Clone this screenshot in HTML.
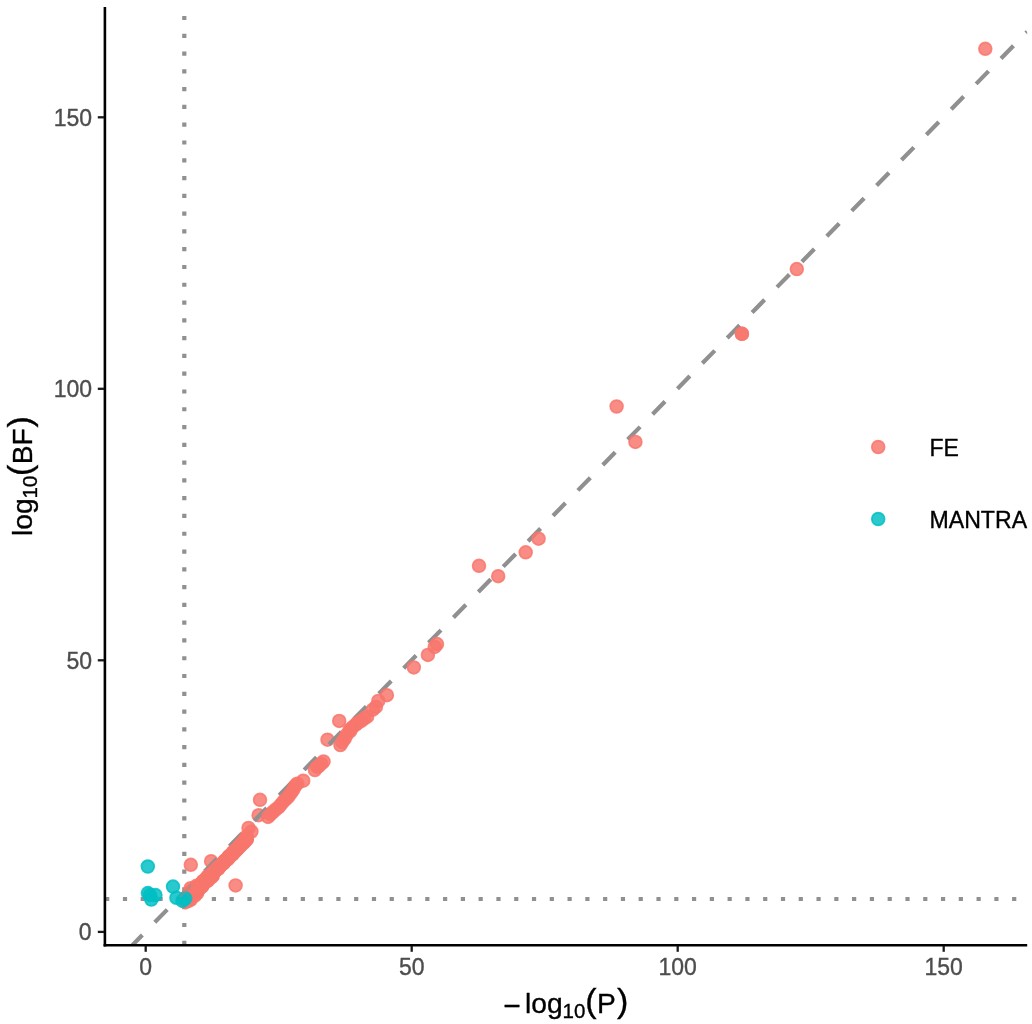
<!DOCTYPE html>
<html><head><meta charset="utf-8"><title>log10(BF) vs -log10(P)</title>
<style>
html,body{margin:0;padding:0;background:#fff;}
svg{display:block;}
text{font-family:"Liberation Sans",Arial,Helvetica,sans-serif;stroke-width:0.35px;}
.tk{stroke:#4d4d4d;} .ttl,.sub,.par,.lg{stroke:#000;}
.tk{font-size:23px;fill:#4d4d4d;}
.ttl{font-size:28.2px;fill:#000;}
.sub{font-size:20.5px;fill:#000;}
.par{font-size:34px;fill:#000;}
.lg{font-size:23px;fill:#000;}
</style></head>
<body>
<svg width="1032" height="1024" viewBox="0 0 1032 1024">
<rect width="1032" height="1024" fill="#ffffff"/>
<defs><clipPath id="nearorigin"><rect x="170" y="880" width="21" height="30"/></clipPath><clipPath id="panel"><rect x="105.0" y="7.0" width="922.2" height="938.0"/></clipPath></defs>
<g clip-path="url(#panel)">
<line x1="184.3" y1="945.0" x2="184.3" y2="7.0" stroke="#909090" stroke-width="4.2" stroke-dasharray="4.2 13.584" stroke-dashoffset="-0.12"/>
<line x1="105.0" y1="899" x2="1027.2" y2="899" stroke="#909090" stroke-width="4.2" stroke-dasharray="4.2 13.584" stroke-dashoffset="-0.12"/>
<g fill="#F8766D" fill-opacity="0.84" stroke="#F8766D" stroke-opacity="0.84" stroke-width="1.7"><circle cx="327.5" cy="739.7" r="6.4"/><circle cx="258.6" cy="815.2" r="6.4"/><circle cx="211.1" cy="861.2" r="6.4"/></g>
<line x1="105.0" y1="973.15" x2="1027.2" y2="31.71" stroke="#909090" stroke-width="4.2" stroke-dasharray="17.784 17.784"/>
<g fill="#F8766D" fill-opacity="0.84" stroke="#F8766D" stroke-opacity="0.84" stroke-width="1.7">
<circle cx="186.0" cy="899.8" r="6.4"/>
<circle cx="186.6" cy="900.5" r="6.4"/>
<circle cx="186.6" cy="900.2" r="6.4"/>
<circle cx="187.0" cy="897.8" r="6.4"/>
<circle cx="186.9" cy="897.8" r="6.4"/>
<circle cx="186.6" cy="897.9" r="6.4"/>
<circle cx="189.5" cy="897.3" r="6.4"/>
<circle cx="188.2" cy="896.7" r="6.4"/>
<circle cx="190.0" cy="897.8" r="6.4"/>
<circle cx="190.7" cy="896.4" r="6.4"/>
<circle cx="191.2" cy="897.3" r="6.4"/>
<circle cx="191.2" cy="897.0" r="6.4"/>
<circle cx="190.7" cy="894.0" r="6.4"/>
<circle cx="191.8" cy="894.4" r="6.4"/>
<circle cx="191.3" cy="894.1" r="6.4"/>
<circle cx="193.4" cy="893.8" r="6.4"/>
<circle cx="192.9" cy="893.6" r="6.4"/>
<circle cx="191.9" cy="892.5" r="6.4"/>
<circle cx="194.8" cy="892.6" r="6.4"/>
<circle cx="194.2" cy="891.8" r="6.4"/>
<circle cx="194.2" cy="892.1" r="6.4"/>
<circle cx="196.7" cy="891.5" r="6.4"/>
<circle cx="195.3" cy="890.3" r="6.4"/>
<circle cx="196.2" cy="890.9" r="6.4"/>
<circle cx="197.4" cy="890.1" r="6.4"/>
<circle cx="197.8" cy="890.6" r="6.4"/>
<circle cx="197.2" cy="889.4" r="6.4"/>
<circle cx="197.6" cy="887.4" r="6.4"/>
<circle cx="197.5" cy="887.2" r="6.4"/>
<circle cx="199.1" cy="888.8" r="6.4"/>
<circle cx="200.4" cy="887.7" r="6.4"/>
<circle cx="200.2" cy="887.3" r="6.4"/>
<circle cx="199.8" cy="887.1" r="6.4"/>
<circle cx="202.2" cy="886.3" r="6.4"/>
<circle cx="201.1" cy="885.5" r="6.4"/>
<circle cx="200.2" cy="884.6" r="6.4"/>
<circle cx="203.1" cy="884.6" r="6.4"/>
<circle cx="202.8" cy="885.0" r="6.4"/>
<circle cx="202.2" cy="884.0" r="6.4"/>
<circle cx="202.5" cy="881.8" r="6.4"/>
<circle cx="202.5" cy="882.2" r="6.4"/>
<circle cx="202.9" cy="881.9" r="6.4"/>
<circle cx="203.8" cy="880.7" r="6.4"/>
<circle cx="205.0" cy="881.3" r="6.4"/>
<circle cx="203.9" cy="880.6" r="6.4"/>
<circle cx="206.7" cy="880.4" r="6.4"/>
<circle cx="207.3" cy="881.0" r="6.4"/>
<circle cx="205.6" cy="879.7" r="6.4"/>
<circle cx="207.6" cy="878.6" r="6.4"/>
<circle cx="208.2" cy="880.0" r="6.4"/>
<circle cx="206.5" cy="878.2" r="6.4"/>
<circle cx="208.2" cy="877.0" r="6.4"/>
<circle cx="208.8" cy="877.8" r="6.4"/>
<circle cx="207.6" cy="876.5" r="6.4"/>
<circle cx="209.9" cy="876.0" r="6.4"/>
<circle cx="211.3" cy="877.3" r="6.4"/>
<circle cx="210.3" cy="876.3" r="6.4"/>
<circle cx="211.4" cy="875.3" r="6.4"/>
<circle cx="212.6" cy="875.9" r="6.4"/>
<circle cx="212.5" cy="875.8" r="6.4"/>
<circle cx="212.5" cy="873.6" r="6.4"/>
<circle cx="212.6" cy="873.4" r="6.4"/>
<circle cx="212.0" cy="873.4" r="6.4"/>
<circle cx="213.5" cy="872.1" r="6.4"/>
<circle cx="213.5" cy="872.2" r="6.4"/>
<circle cx="213.4" cy="872.0" r="6.4"/>
<circle cx="214.9" cy="870.7" r="6.4"/>
<circle cx="215.4" cy="870.7" r="6.4"/>
<circle cx="215.0" cy="871.0" r="6.4"/>
<circle cx="216.3" cy="869.5" r="6.4"/>
<circle cx="216.1" cy="869.6" r="6.4"/>
<circle cx="218.6" cy="868.5" r="6.4"/>
<circle cx="217.9" cy="868.3" r="6.4"/>
<circle cx="218.6" cy="866.7" r="6.4"/>
<circle cx="218.9" cy="866.9" r="6.4"/>
<circle cx="220.3" cy="865.8" r="6.4"/>
<circle cx="220.7" cy="865.4" r="6.4"/>
<circle cx="221.5" cy="864.3" r="6.4"/>
<circle cx="221.4" cy="864.4" r="6.4"/>
<circle cx="223.6" cy="863.0" r="6.4"/>
<circle cx="223.5" cy="863.2" r="6.4"/>
<circle cx="224.1" cy="861.5" r="6.4"/>
<circle cx="224.5" cy="861.5" r="6.4"/>
<circle cx="226.0" cy="860.4" r="6.4"/>
<circle cx="225.3" cy="860.2" r="6.4"/>
<circle cx="227.7" cy="859.2" r="6.4"/>
<circle cx="227.5" cy="859.2" r="6.4"/>
<circle cx="228.7" cy="857.9" r="6.4"/>
<circle cx="228.2" cy="857.5" r="6.4"/>
<circle cx="229.0" cy="856.3" r="6.4"/>
<circle cx="229.1" cy="856.1" r="6.4"/>
<circle cx="231.0" cy="854.9" r="6.4"/>
<circle cx="231.1" cy="855.3" r="6.4"/>
<circle cx="232.9" cy="854.0" r="6.4"/>
<circle cx="232.3" cy="854.0" r="6.4"/>
<circle cx="233.1" cy="852.2" r="6.4"/>
<circle cx="233.0" cy="852.2" r="6.4"/>
<circle cx="235.3" cy="851.1" r="6.4"/>
<circle cx="235.0" cy="851.2" r="6.4"/>
<circle cx="236.5" cy="849.8" r="6.4"/>
<circle cx="236.0" cy="849.5" r="6.4"/>
<circle cx="237.9" cy="848.6" r="6.4"/>
<circle cx="237.5" cy="848.5" r="6.4"/>
<circle cx="238.8" cy="846.9" r="6.4"/>
<circle cx="238.9" cy="847.0" r="6.4"/>
<circle cx="240.2" cy="846.0" r="6.4"/>
<circle cx="240.4" cy="845.7" r="6.4"/>
<circle cx="241.1" cy="844.5" r="6.4"/>
<circle cx="240.7" cy="844.2" r="6.4"/>
<circle cx="243.1" cy="843.3" r="6.4"/>
<circle cx="242.7" cy="842.9" r="6.4"/>
<circle cx="244.3" cy="842.0" r="6.4"/>
<circle cx="243.9" cy="841.7" r="6.4"/>
<circle cx="244.5" cy="840.2" r="6.4"/>
<circle cx="245.6" cy="840.7" r="6.4"/>
<circle cx="246.9" cy="839.1" r="6.4"/>
<circle cx="246.8" cy="839.1" r="6.4"/>
<circle cx="196.6" cy="885.7" r="6.4"/>
<circle cx="189.0" cy="894.4" r="6.4"/>
<circle cx="190.6" cy="896.2" r="6.4"/>
<circle cx="189.9" cy="895.0" r="6.4"/>
<circle cx="190.9" cy="899.6" r="6.4"/>
<circle cx="191.4" cy="893.9" r="6.4"/>
<circle cx="197.2" cy="893.1" r="6.4"/>
<circle cx="195.0" cy="895.5" r="6.4"/>
<circle cx="193.9" cy="892.2" r="6.4"/>
<circle cx="190.6" cy="888.2" r="6.4"/>
<circle cx="191.1" cy="891.1" r="6.4"/>
<circle cx="188.5" cy="900.8" r="6.4"/>
<circle cx="189.0" cy="896.5" r="6.4"/>
<circle cx="197.2" cy="889.1" r="6.4"/>
<circle cx="185.7" cy="902.2" r="6.4"/>
<circle cx="985.3" cy="48.8" r="6.4"/>
<circle cx="796.8" cy="269.1" r="6.4"/>
<circle cx="741.9" cy="333.8" r="6.4"/>
<circle cx="741.9" cy="333.8" r="6.4"/>
<circle cx="616.6" cy="406.5" r="6.4"/>
<circle cx="635.4" cy="441.9" r="6.4"/>
<circle cx="538.6" cy="538.7" r="6.4"/>
<circle cx="525.7" cy="552.3" r="6.4"/>
<circle cx="479.0" cy="565.8" r="6.4"/>
<circle cx="498.2" cy="576.2" r="6.4"/>
<circle cx="437.0" cy="644.1" r="6.4"/>
<circle cx="434.7" cy="646.9" r="6.4"/>
<circle cx="427.9" cy="654.9" r="6.4"/>
<circle cx="413.8" cy="667.4" r="6.4"/>
<circle cx="386.9" cy="695.2" r="6.4"/>
<circle cx="378.3" cy="700.9" r="6.4"/>
<circle cx="375.9" cy="706.9" r="6.4"/>
<circle cx="372.8" cy="709.7" r="6.4"/>
<circle cx="367.1" cy="716.7" r="6.4"/>
<circle cx="364.2" cy="718.6" r="6.4"/>
<circle cx="339.2" cy="720.9" r="6.4"/>
<circle cx="357.2" cy="723.3" r="6.4"/>
<circle cx="355.7" cy="724.6" r="6.4"/>
<circle cx="352.5" cy="727.2" r="6.4"/>
<circle cx="350.2" cy="731.1" r="6.4"/>
<circle cx="349.5" cy="729.9" r="6.4"/>
<circle cx="344.6" cy="738.8" r="6.4"/>
<circle cx="340.4" cy="745.1" r="6.4"/>
<circle cx="323.5" cy="761.5" r="6.4"/>
<circle cx="318.8" cy="766.1" r="6.4"/>
<circle cx="314.9" cy="770.0" r="6.4"/>
<circle cx="317.3" cy="766.9" r="6.4"/>
<circle cx="303.2" cy="780.7" r="6.4"/>
<circle cx="295.4" cy="785.6" r="6.4"/>
<circle cx="293.4" cy="789.5" r="6.4"/>
<circle cx="288.6" cy="796.4" r="6.4"/>
<circle cx="283.7" cy="801.2" r="6.4"/>
<circle cx="278.8" cy="807.1" r="6.4"/>
<circle cx="272.9" cy="812.0" r="6.4"/>
<circle cx="268.0" cy="816.9" r="6.4"/>
<circle cx="260.0" cy="799.8" r="6.4"/>
<circle cx="251.4" cy="831.5" r="6.4"/>
<circle cx="248.5" cy="828.0" r="6.4"/>
<circle cx="246.6" cy="836.4" r="6.4"/>
<circle cx="235.6" cy="885.4" r="6.4"/>
<circle cx="190.8" cy="864.8" r="6.4"/>
<circle cx="291.0" cy="792.9" r="6.4"/>
<circle cx="286.1" cy="798.8" r="6.4"/>
<circle cx="281.2" cy="804.1" r="6.4"/>
<circle cx="275.7" cy="809.5" r="6.4"/>
<circle cx="270.5" cy="814.4" r="6.4"/>
<circle cx="297.2" cy="783.7" r="6.4"/>
<circle cx="361.0" cy="721.0" r="6.4"/>
<circle cx="346.5" cy="735.0" r="6.4"/>
<circle cx="342.2" cy="742.2" r="6.4"/>
<circle cx="321.2" cy="763.7" r="6.4"/>
</g>
<g fill="#00BFC4" fill-opacity="0.84" stroke="#00BFC4" stroke-opacity="0.84" stroke-width="1.7">
<circle cx="147.8" cy="866.5" r="6.4"/>
<circle cx="173.0" cy="886.6" r="6.4"/>
<circle cx="147.9" cy="893.1" r="6.4"/>
<circle cx="155.4" cy="895.1" r="6.4"/>
<circle cx="151.3" cy="899.6" r="6.4"/>
<circle cx="150.0" cy="895.0" r="6.4"/>
<circle cx="176.4" cy="897.8" r="6.4"/>
<circle cx="185.2" cy="898.5" r="6.4"/>
<circle cx="182.5" cy="900.8" r="6.4"/>
</g>
<g clip-path="url(#nearorigin)"><line x1="105.0" y1="973.15" x2="1027.2" y2="31.71" stroke="#9a8f8f" stroke-opacity="0.45" stroke-width="3" stroke-dasharray="17.784 17.784"/></g>
</g>
<!-- axes -->
<g stroke="#000" stroke-width="2.6" fill="none" stroke-linecap="butt">
<line x1="104.9" y1="7.0" x2="104.9" y2="946.5"/>
<line x1="103.6" y1="945.2" x2="1027.2" y2="945.2"/>
</g>
<g stroke="#1a1a1a" stroke-width="2.3">
<line x1="145.7" y1="946" x2="145.7" y2="951.8"/>
<line x1="411.7" y1="946" x2="411.7" y2="951.8"/>
<line x1="677.7" y1="946" x2="677.7" y2="951.8"/>
<line x1="943.7" y1="946" x2="943.7" y2="951.8"/>
<line x1="97.8" y1="931.9" x2="104" y2="931.9"/>
<line x1="97.8" y1="660.3" x2="104" y2="660.3"/>
<line x1="97.8" y1="388.8" x2="104" y2="388.8"/>
<line x1="97.8" y1="117.3" x2="104" y2="117.3"/>
</g>
<g class="tk" text-anchor="middle">
<text x="145.7" y="975">0</text>
<text x="411.7" y="975">50</text>
<text x="677.7" y="975">100</text>
<text x="943.7" y="975">150</text>
</g>
<g class="tk" text-anchor="end">
<text x="91.6" y="940">0</text>
<text x="92" y="669">50</text>
<text x="92" y="397">100</text>
<text x="92" y="126">150</text>
</g>
<!-- x title -->
<g>
<text class="ttl" style="font-size:30px" x="503.3" y="1016.3">−</text>
<text class="ttl" x="525" y="1013">log</text>
<text class="sub" x="562.6" y="1018.2">10</text>
<text class="par" x="585.2" y="1011.6">(</text>
<text class="ttl" x="597" y="1013">P</text>
<text class="par" x="617" y="1011.6">)</text>
</g>
<!-- y title -->
<g transform="translate(31.8,535.9) rotate(-90)">
<text class="ttl" x="0" y="0">log</text>
<text class="sub" x="37.4" y="5.4">10</text>
<text class="par" x="60" y="-0.4">(</text>
<text class="ttl" x="71.6" y="0">BF</text>
<text class="par" x="108.4" y="-0.4">)</text>
</g>
<!-- legend -->
<circle cx="878.2" cy="447.0" r="6.4" fill="#F8766D" fill-opacity="0.84" stroke="#F8766D" stroke-opacity="0.84" stroke-width="1.7"/>
<circle cx="878.2" cy="519.0" r="6.4" fill="#00BFC4" fill-opacity="0.84" stroke="#00BFC4" stroke-opacity="0.84" stroke-width="1.7"/>
<text class="lg" x="929.5" y="456">FE</text>
<text class="lg" x="929.5" y="528" textLength="97.6" lengthAdjust="spacingAndGlyphs">MANTRA</text>
</svg>
</body></html>
